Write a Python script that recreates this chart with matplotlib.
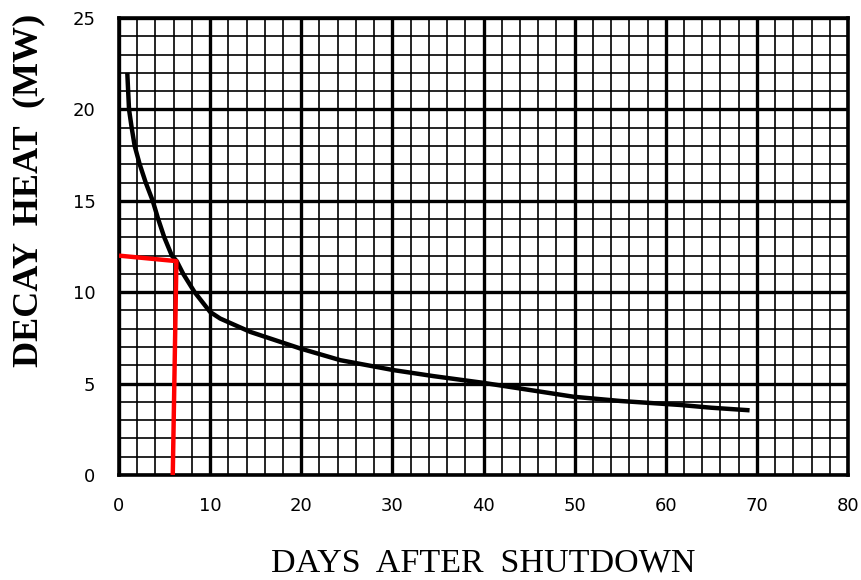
import matplotlib
matplotlib.use("Agg")
import matplotlib.pyplot as plt
from matplotlib.ticker import MultipleLocator

# Data
days = [0.91, 1.1, 1.39, 1.72, 2.27, 2.93, 3.7, 4.3, 4.97, 5.8, 6.33, 7.05, 8.3,
        10.0, 11.1, 14.4, 19.9, 24.3, 30.1, 34.5, 40.0, 49.9, 55.0, 61.6, 65.0, 69.2]
heat = [22.0, 20.0, 19.0, 18.0, 17.0, 16.0, 15.0, 14.0, 13.0, 12.0, 11.7, 11.0, 10.0,
        8.92, 8.56, 7.83, 6.92, 6.28, 5.74, 5.41, 5.04, 4.28, 4.05, 3.83, 3.68, 3.54]
marker_x = [0.0, 6.3, 5.9]
marker_y = [12.0, 11.7, 0.0]
x_ticks = [0, 10, 20, 30, 40, 50, 60, 70, 80]
y_ticks = [0, 5, 10, 15, 20, 25]

fig = plt.figure(figsize=(8.61, 5.80), dpi=100)
ax = fig.add_axes([119/861, 105/580, (848-119)/861, (475-18)/580])

ax.set_xlim(0, 80)
ax.set_ylim(0, 25)
ax.xaxis.set_major_locator(MultipleLocator(10))
ax.yaxis.set_major_locator(MultipleLocator(5))
ax.xaxis.set_minor_locator(MultipleLocator(2))
ax.yaxis.set_minor_locator(MultipleLocator(1))
ax.grid(which='minor', color='black', linewidth=1.2)
ax.grid(which='major', color='black', linewidth=2.4)
ax.set_axisbelow(True)
for s in ax.spines.values():
    s.set_linewidth(2.6)
    s.set_color('black')

ax.tick_params(which='both', length=0)
ax.tick_params(axis='x', pad=16)
ax.tick_params(axis='y', pad=17)
ax.set_xticks(x_ticks)
ax.set_yticks(y_ticks)
ax.set_xticklabels([str(v) for v in x_ticks], fontsize=13, family='DejaVu Sans')
ax.set_yticklabels([str(v) for v in y_ticks], fontsize=13, family='DejaVu Sans')

ax.plot(days, heat, color='black', linewidth=3.2, solid_capstyle='butt',
        solid_joinstyle='round', zorder=5)
ax.plot(marker_x, marker_y, color='#ff0000', linewidth=3.2, solid_capstyle='butt', zorder=6)

fig.text(483/861, 1 - 563/580, 'DAYS  AFTER  SHUTDOWN', ha='center', va='center',
         fontsize=24.5, family='Liberation Serif')
fig.text(29/861, 1 - 190/580, 'DECAY  HEAT  (MW)', ha='center', va='center',
         rotation=90, fontsize=26, family='Liberation Serif', fontweight='bold')

fig.savefig('out.png', dpi=100)
